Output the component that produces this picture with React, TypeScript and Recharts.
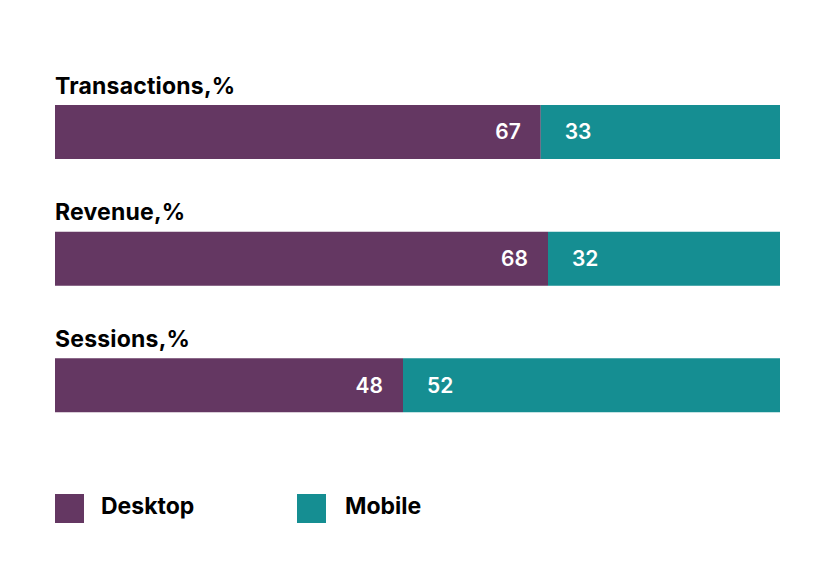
import React from "react";
import { BarChart, Bar, XAxis, YAxis, LabelList } from "recharts";

const categories = ["Transactions,%", "Revenue,%", "Sessions,%"];
const desktop = [67, 68, 48];
const mobile = [33, 32, 52];
const seriesNames = ["Desktop", "Mobile"];
const colors = ["#643762", "#158E92"];

const data = categories.map((c, i) => ({ name: c, desktop: desktop[i], mobile: mobile[i] }));

const FONT = "Inter, 'Noto Sans', sans-serif";

const TitleLabel = (props: any) => {
  const { x, y, value } = props;
  return (
    <text x={x} y={y - 11.5} fontFamily={FONT} fontWeight={700} fontSize={23} letterSpacing={0.2} fill="#000" textAnchor="start">
      {value}
    </text>
  );
};

export default function App() {
  return (
    <div style={{ position: "absolute", left: 0, top: 0, width: 824, height: 579, background: "#fff" }}>
      <BarChart
        width={824}
        height={579}
        data={data}
        layout="vertical"
        margin={{ top: 69, right: 44, bottom: 130, left: 55 }}
        barSize={54}
      >
        <XAxis type="number" domain={[0, 100]} hide />
        <YAxis type="category" dataKey="name" hide />
        <Bar dataKey="desktop" stackId="a" fill={colors[0]} isAnimationActive={false}>
          <LabelList dataKey="name" content={<TitleLabel />} />
          <LabelList dataKey="desktop" position="insideRight" offset={20} fill="#fff" fontFamily={FONT} fontWeight={600} fontSize={21} />
        </Bar>
        <Bar dataKey="mobile" stackId="a" fill={colors[1]} isAnimationActive={false}>
          <LabelList dataKey="mobile" position="insideLeft" offset={24} fill="#fff" fontFamily={FONT} fontWeight={600} fontSize={21} />
        </Bar>
      </BarChart>
      {seriesNames.map((n, i) => (
        <div key={n} style={{ position: "absolute", left: i === 0 ? 55 : 297, top: 494, display: "flex", alignItems: "center" }}>
          <div style={{ width: 29, height: 29, background: colors[i] }} />
          <span style={{ marginLeft: i === 0 ? 17 : 19, position: "relative", top: -3, fontFamily: FONT, fontWeight: 700, fontSize: 23, color: "#000" }}>{n}</span>
        </div>
      ))}
    </div>
  );
}
